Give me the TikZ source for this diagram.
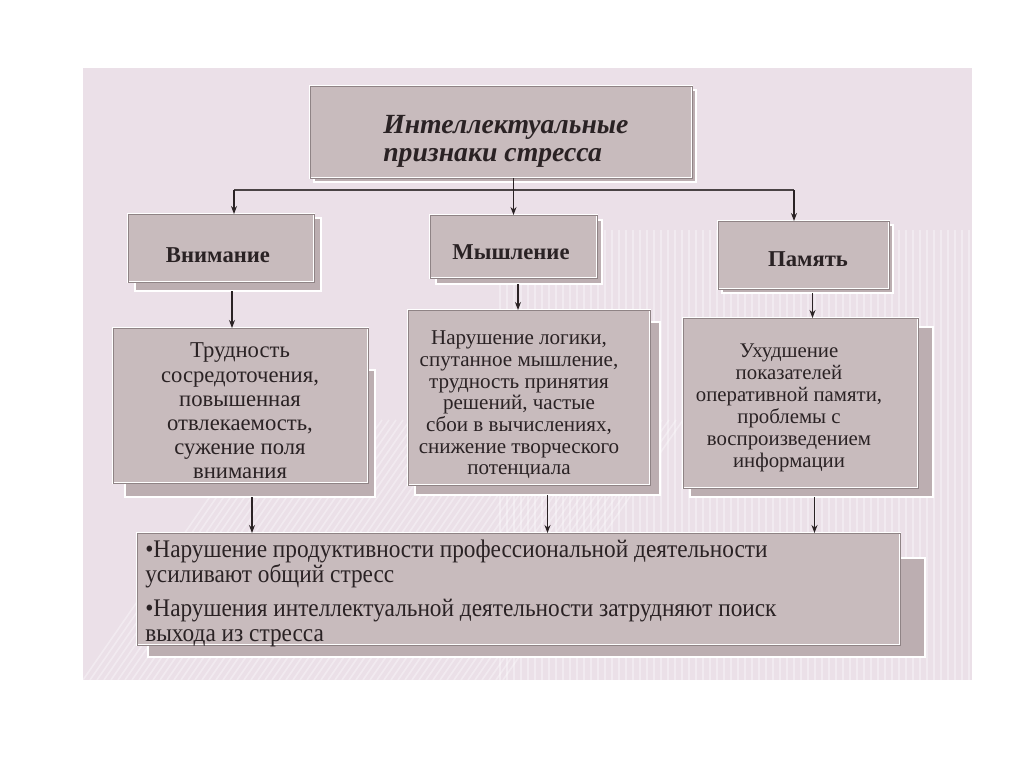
\documentclass[tikz,border=0pt]{standalone}
\usepackage{fontspec}
\setmainfont{Liberation Serif}
\newfontfamily\condfont[FakeStretch=0.92]{Liberation Serif}
\usetikzlibrary{arrows.meta,calc}
\definecolor{panel}{HTML}{EBE0E8}
\definecolor{boxfill}{HTML}{C8BBBD}
\definecolor{shadfill}{HTML}{BCAEB1}
\definecolor{edge}{HTML}{8F8385}
\definecolor{ink}{HTML}{2A2224}
\tikzset{
  box/.style={draw=white, line width=1.2pt, fill=boxfill, inner sep=0pt, outer sep=0pt,
    postaction={draw=edge, line width=0.4pt}},
  shad/.style={draw=white, line width=1.2pt, fill=shadfill, inner sep=0pt, outer sep=0pt},
  txt/.style={text=ink, align=center, inner sep=0pt},
  arr/.style={draw=ink, line width=0.8pt, -{Stealth[length=6pt,width=4.5pt]}},
  ln/.style={draw=ink!85, line width=1.2pt},
  stripe/.style={white, line width=1.2pt, opacity=0.35}
}
\begin{document}
\begin{tikzpicture}[x=0.75pt,y=-0.75pt]
\useasboundingbox (0,0) rectangle (1024,767);
\fill[white] (0,0) rectangle (1024,767);
\fill[panel] (83,68) rectangle (972,680);
% background stripes
\begin{scope}
\clip (83,68) rectangle (972,680);
\foreach \i in {0,7,...,420} {
  \draw[stripe] (83+\i,680) -- (83+\i+180,420);
}
\foreach \i in {500,507,...,972} {
  \draw[stripe] (\i,230) -- (\i,680);
}
\end{scope}

% shadows
\node[shad, minimum width=286.5pt, minimum height=69pt] (titleS) at (505,136) {};
\node[shad, minimum width=139.5pt, minimum height=54.75pt] (attnS) at (228,254.5) {};
\node[shad, minimum width=124.5pt, minimum height=48pt] (thinkS) at (519,252) {};
\node[shad, minimum width=128.25pt, minimum height=51pt] (memS) at (807.5,259) {};
\node[shad, minimum width=187.5pt, minimum height=95.25pt] (b1S) at (250,433.5) {};
\node[shad, minimum width=183.75pt, minimum height=129.75pt] (b2S) at (537.5,408.5) {};
\node[shad, minimum width=182.25pt, minimum height=127.5pt] (b3S) at (811.5,412) {};
\node[shad, minimum width=582.75pt, minimum height=74.25pt] (botS) at (536.5,607.5) {};

% main boxes
\node[box, minimum width=286.5pt, minimum height=69pt] (title) at (501,132) {};
\node[box, minimum width=139.5pt, minimum height=51pt] (attn) at (221,248) {};
\node[box, minimum width=125.25pt, minimum height=47.25pt] (think) at (513.5,246.5) {};
\node[box, minimum width=128.25pt, minimum height=51pt] (mem) at (803.5,255) {};
\node[box, minimum width=191.25pt, minimum height=116.25pt] (b1) at (240.5,405.5) {};
\node[box, minimum width=181.5pt, minimum height=131.25pt] (b2) at (529,397.5) {};
\node[box, minimum width=176.25pt, minimum height=127.5pt] (b3) at (800.5,403) {};
\node[box, minimum width=572.25pt, minimum height=84pt] (bot) at (518.5,589) {};

% texts
\node[txt, anchor=west, align=left, font=\fontsize{20.8pt}{21pt}\selectfont\bfseries\itshape] (titleT) at (383,141) {Интеллектуальные\\признаки стресса};
\node[txt, font=\fontsize{17pt}{18pt}\selectfont\bfseries] (attnT) at (218,255) {Внимание};
\node[txt, font=\fontsize{17pt}{18pt}\selectfont\bfseries] (thinkT) at (511,252) {Мышление};
\node[txt, font=\fontsize{17pt}{18pt}\selectfont\bfseries] (memT) at (808,259) {Память};
\node[txt, font=\fontsize{17pt}{18.15pt}\selectfont] (b1T) at (240,411) {Трудность\\сосредоточения,\\повышенная\\отвлекаемость,\\сужение поля\\внимания};
\node[txt, font=\fontsize{15.8pt}{16.25pt}\selectfont] (b2T) at (519,405) {Нарушение логики,\\спутанное мышление,\\трудность принятия\\решений, частые\\сбои в вычислениях,\\снижение творческого\\потенциала};
\node[txt, font=\fontsize{15.6pt}{16.5pt}\selectfont] (b3T) at (789,408) {Ухудшение\\показателей\\оперативной памяти,\\проблемы с\\воспроизведением\\информации};
\node[txt, anchor=north west, align=left, font=\condfont\fontsize{19pt}{18.75pt}\selectfont] (botT) at (145,540) {•Нарушение продуктивности профессиональной деятельности\\усиливают общий стресс\\[6.75pt]•Нарушения интеллектуальной деятельности затрудняют поиск\\выхода из стресса};

% connectors
\coordinate (busL) at (234,190);
\coordinate (busR) at (794,190);
\coordinate (top) at (title.south -| think.north);
\draw[ln] (busL) -- (busR);
\draw[arr] (top) -- (think.north);
\draw[arr] (busL) -- (busL |- attn.north);
\draw[arr] (busR) -- (busR |- mem.north);
\coordinate (a1) at ($(attnS.south)+(4,0)$);
\coordinate (a2) at ($(thinkS.south)+(-1,0)$);
\coordinate (a3) at ($(memS.south)+(5,0)$);
\coordinate (c1) at ($(b1S.south)+(2,0)$);
\coordinate (c2) at ($(b2S.south)+(10,0)$);
\coordinate (c3) at ($(b3S.south)+(3,0)$);
\draw[arr] (a1) -- (a1 |- b1.north);
\draw[arr] (a2) -- (a2 |- b2.north);
\draw[arr] (a3) -- (a3 |- b3.north);
\draw[arr] (c1) -- (c1 |- bot.north);
\draw[arr] (c2) -- (c2 |- bot.north);
\draw[arr] (c3) -- (c3 |- bot.north);
\end{tikzpicture}
\end{document}
